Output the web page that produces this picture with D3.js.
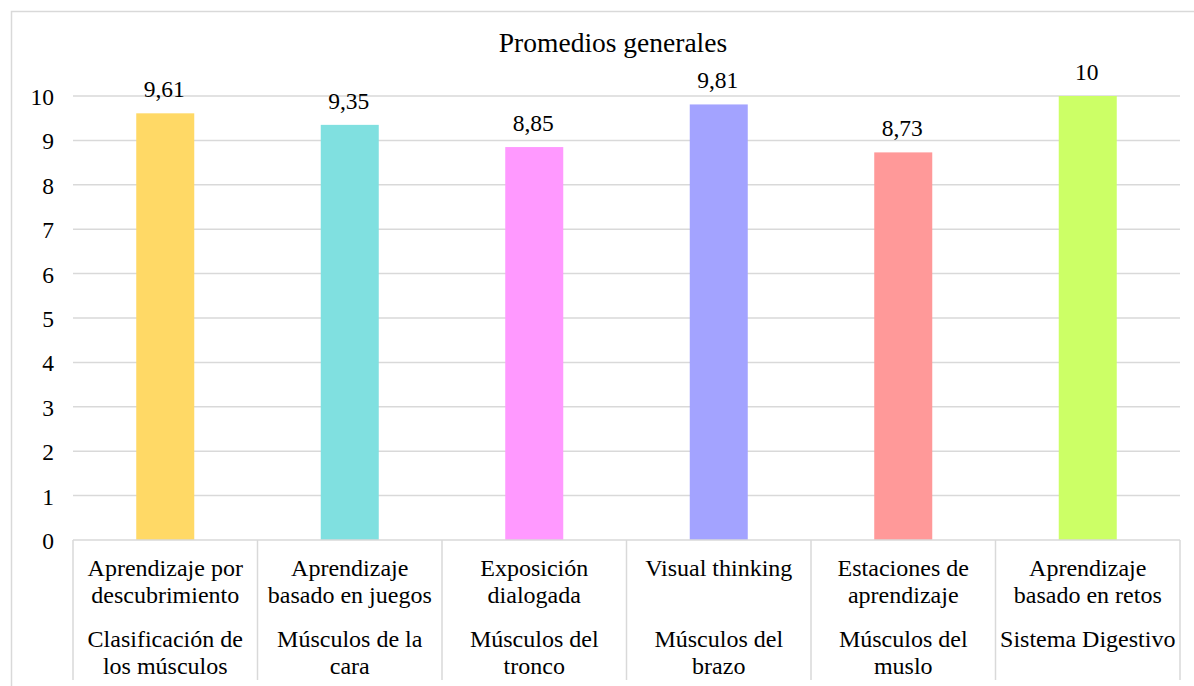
<!DOCTYPE html>
<html>
<head>
<meta charset="utf-8">
<script src="https://cdn.jsdelivr.net/npm/d3@7"></script>
<style>
  html, body { margin: 0; padding: 0; background: #fff; }
  svg { display: block; }
</style>
</head>
<body>
<svg id="chart" width="1194" height="686"></svg>
<script>
const title = "Promedios generales";
const methods = ["Aprendizaje por\ndescubrimiento", "Aprendizaje\nbasado en juegos", "Exposición\ndialogada", "Visual thinking", "Estaciones de\naprendizaje", "Aprendizaje\nbasado en retos"];
const topics = ["Clasificación de\nlos músculos", "Músculos de la\ncara", "Músculos del\ntronco", "Músculos del\nbrazo", "Músculos del\nmuslo", "Sistema Digestivo"];
const values = [9.61, 9.35, 8.85, 9.81, 8.73, 10];
const valueLabels = ["9,61", "9,35", "8,85", "9,81", "8,73", "10"];
const colors = ["#FFD966", "#80E0E0", "#FF99FF", "#A3A3FF", "#FF9999", "#CCFF66"];
const ticks = [0, 1, 2, 3, 4, 5, 6, 7, 8, 9, 10];

(function () {
const FONT = "Liberation Serif";
const svg = d3.select("#chart").attr("font-family", FONT);
const grid = "#d9d9d9";

// outer chart border
svg.append("rect").attr("x", 11.5).attr("y", 11.5).attr("width", 1200).attr("height", 700)
  .attr("fill", "none").attr("stroke", grid).attr("stroke-width", 1.5);

const pLeft = 73, pRight = 1180, pTop = 96, pBottom = 540;
const x = d3.scaleBand().domain(d3.range(methods.length)).range([pLeft, pRight])
  .paddingInner(0.6856).paddingOuter(0.3428);
const y = d3.scaleLinear().domain([0, 10]).range([pBottom, pTop]);

// title
svg.append("text").attr("x", 613).attr("y", 52).attr("text-anchor", "middle")
  .attr("font-family", FONT).attr("font-size", 27.5).attr("fill", "#000").text(title);

// gridlines
svg.append("g").selectAll("line").data(ticks.filter(t => t > 0)).join("line")
  .attr("x1", pLeft).attr("x2", pRight)
  .attr("y1", d => y(d)).attr("y2", d => y(d))
  .attr("stroke", grid).attr("stroke-width", 1.5);

// y axis labels
const yAxis = d3.axisLeft(y).tickValues(ticks).tickSize(0).tickPadding(0).tickFormat(d3.format("d"));
const ya = svg.append("g").attr("transform", `translate(54,0)`).call(yAxis)
  .attr("font-family", FONT).attr("font-size", 23.5);
ya.select(".domain").remove();
ya.selectAll("text").attr("font-family", FONT).attr("font-size", 23.5).attr("fill", "#000").attr("dy", "0.36em");

// bars
svg.append("g").selectAll("rect").data(values).join("rect")
  .attr("x", (d, i) => x(i)).attr("width", x.bandwidth())
  .attr("y", d => y(d)).attr("height", d => y(0) - y(d))
  .attr("fill", (d, i) => colors[i]);

// value labels
svg.append("g").selectAll("text").data(values).join("text")
  .attr("x", (d, i) => x(i) + x.bandwidth() / 2 - 1).attr("y", d => y(d) - 16)
  .attr("text-anchor", "middle").attr("font-family", FONT).attr("font-size", 23.5).attr("fill", "#000")
  .text((d, i) => valueLabels[i]);

// x axis line and category separators
svg.append("line").attr("x1", pLeft).attr("x2", pRight).attr("y1", pBottom).attr("y2", pBottom)
  .attr("stroke", grid).attr("stroke-width", 1.5);
const step = x.step();
const bounds = d3.range(methods.length + 1).map(i => pLeft + i * step);
svg.append("g").selectAll("line").data(bounds).join("line")
  .attr("x1", d => d).attr("x2", d => d).attr("y1", pBottom).attr("y2", 680)
  .attr("stroke", grid).attr("stroke-width", 1.5);

// category labels
const lab = svg.append("g").attr("font-family", FONT).attr("font-size", 24).attr("fill", "#000").attr("text-anchor", "middle");
methods.forEach((m, i) => {
  const cx = x(i) + x.bandwidth() / 2;
  m.split("\n").forEach((ln, j) => {
    lab.append("text").attr("x", cx).attr("y", 576 + j * 27).attr("font-family", FONT).text(ln);
  });
  topics[i].split("\n").forEach((ln, j) => {
    lab.append("text").attr("x", cx).attr("y", 647 + j * 27).attr("font-family", FONT).text(ln);
  });
});
})();
</script>
</body>
</html>
